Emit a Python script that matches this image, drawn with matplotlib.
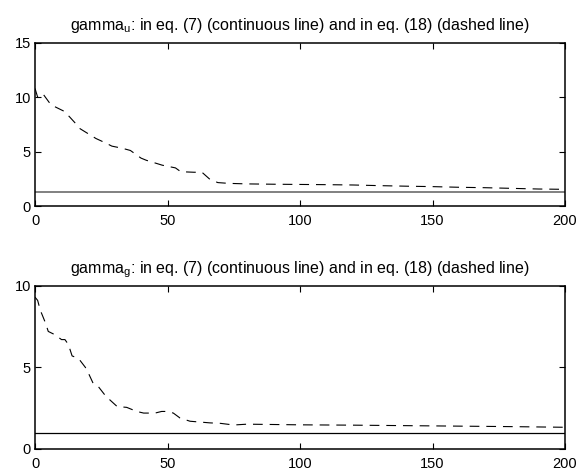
import matplotlib
matplotlib.use("Agg")
import matplotlib.pyplot as plt

plt.rcParams['font.family'] = ['Liberation Sans', 'DejaVu Sans']
plt.rcParams['mathtext.fontset'] = 'custom'
plt.rcParams['mathtext.rm'] = 'Liberation Sans'
plt.rcParams['lines.scale_dashes'] = False

# gamma_u estimate from eq. (18) and constant value from eq. (7)
top_x = [0, 1, 3, 6, 11, 13, 16, 17, 21, 23, 27, 29, 33, 36, 40, 42, 46, 48,
         53, 55, 60, 63, 66, 69, 73, 80, 90, 100, 110, 120, 130, 140, 150,
         160, 170, 180, 190, 200]
top_y = [10.8, 10.0, 10.3, 9.3, 8.7, 8.2, 7.4, 7.1, 6.5, 6.2, 5.75, 5.5, 5.3,
         5.1, 4.4, 4.2, 3.9, 3.75, 3.5, 3.15, 3.1, 3.1, 2.45, 2.15, 2.08, 2.03,
         2.0, 1.98, 1.96, 1.93, 1.87, 1.82, 1.78, 1.72, 1.68, 1.62, 1.56, 1.53]
gamma_u_eq7 = 1.25

# gamma_g estimate from eq. (18) and constant value from eq. (7)
bot_x = [0, 1, 2, 4, 5, 7.5, 10, 11.3, 12.6, 14, 16.4, 19, 20, 22, 24, 26.4,
         28.3, 31, 34.6, 38.4, 41, 45.3, 47.8, 50, 52.2, 54.7, 58.5, 62.3, 66,
         70, 75, 80, 90, 100, 120, 140, 160, 180, 200]
bot_y = [9.3, 9.1, 8.5, 7.7, 7.2, 7.0, 6.7, 6.7, 6.4, 5.7, 5.55, 5.0, 4.7,
         4.0, 3.8, 3.3, 3.0, 2.6, 2.55, 2.3, 2.2, 2.2, 2.3, 2.3, 2.2, 1.9, 1.7,
         1.65, 1.6, 1.57, 1.47, 1.52, 1.5, 1.48, 1.46, 1.43, 1.4, 1.37, 1.33]
gamma_g_eq7 = 0.97

fig = plt.figure(figsize=(5.79, 4.76), dpi=100)
ax1 = fig.add_axes([35/579, 1 - 206/476, 530/579, 163.3/476])
ax2 = fig.add_axes([35/579, 1 - 449/476, 530/579, 163.3/476])


def style(ax, ylim, yticks):
    ax.set_xlim(0, 200)
    ax.set_ylim(*ylim)
    ax.set_xticks([0, 50, 100, 150, 200])
    ax.set_yticks(yticks)
    ax.tick_params(direction='in', length=4, width=0.8, top=True, right=True,
                   labelsize=10.5)
    ax.tick_params(axis='x', pad=6)
    ax.tick_params(axis='y', pad=3)
    for s in ax.spines.values():
        s.set_linewidth(1.1)


def title(ax, sub):
    ax.set_title(r'gamma$_\mathregular{%s}$: in eq. (7) (continuous line) and in eq. (18) (dashed line)' % sub,
                 fontsize=11.5, pad=9)


ax1.axhline(gamma_u_eq7, color='#808080', lw=1.4)
ax1.plot(top_x, top_y, color='black', lw=0.8, dashes=(7, 5))
style(ax1, (0, 15), [0, 5, 10, 15])
title(ax1, 'u')

ax2.axhline(gamma_g_eq7, color='black', lw=0.9)
ax2.plot(bot_x, bot_y, color='black', lw=0.8, dashes=(7, 5))
style(ax2, (0, 10), [0, 5, 10])
title(ax2, 'g')

fig.savefig('out.png', dpi=100)
